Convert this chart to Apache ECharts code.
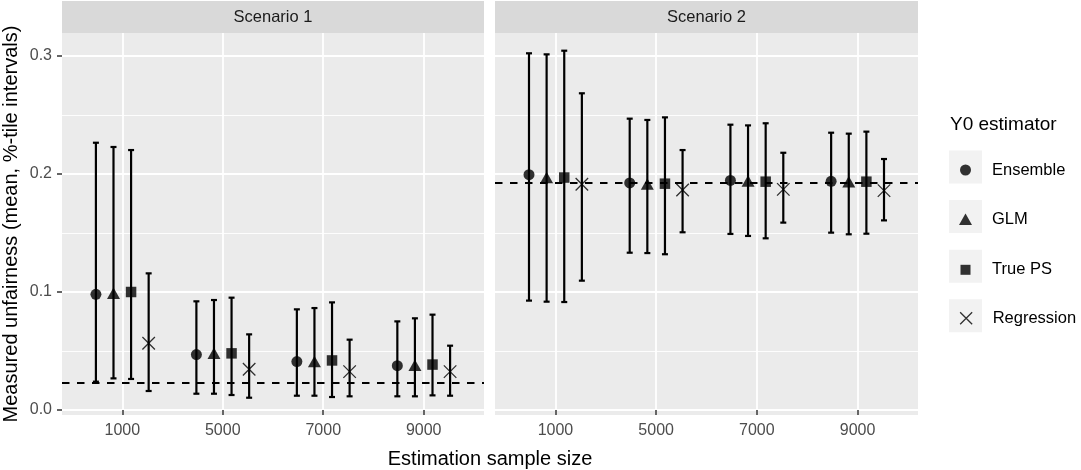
<!DOCTYPE html>
<html>
<head>
<meta charset="utf-8">
<script src="https://cdn.jsdelivr.net/npm/echarts@6/dist/echarts.min.js"></script>
<style>
  html, body { margin: 0; padding: 0; background: #fff; }
  #chart { width: 1081px; height: 470px; }
</style>
</head>
<body>
<div id="chart"></div>
<script>
// sample sizes on the x axis and the four Y0 estimators
var sizes = ['1000', '5000', '7000', '9000'];
var estimators = ['Ensemble', 'GLM', 'True PS', 'Regression'];

// Scenario 1: one row per estimator, one value per sample size
var s1Mean = [
  [0.098, 0.047, 0.041, 0.0376],
  [0.099, 0.048, 0.041, 0.038],
  [0.100, 0.048, 0.042, 0.0385],
  [0.0565, 0.0345, 0.0325, 0.0325]
];
var s1Low = [
  [0.024, 0.0138, 0.0121, 0.0116],
  [0.0268, 0.0138, 0.0121, 0.0116],
  [0.0263, 0.0127, 0.011, 0.0124],
  [0.0161, 0.0104, 0.0116, 0.0121]
];
var s1High = [
  [0.2265, 0.0921, 0.0853, 0.0751],
  [0.2229, 0.0932, 0.0864, 0.0777],
  [0.2203, 0.0952, 0.0912, 0.0808],
  [0.1158, 0.0641, 0.0596, 0.0545]
];

// Scenario 2
var s2Mean = [
  [0.1994, 0.1924, 0.1946, 0.1938],
  [0.197, 0.1915, 0.194, 0.1935],
  [0.197, 0.1918, 0.1935, 0.1935],
  [0.1913, 0.1864, 0.187, 0.1859]
];
var s2Low = [
  [0.0927, 0.1333, 0.1492, 0.1503],
  [0.0918, 0.133, 0.1475, 0.1489],
  [0.0915, 0.132, 0.1455, 0.1494],
  [0.1096, 0.1506, 0.1588, 0.1607]
];
var s2High = [
  [0.3023, 0.2469, 0.2418, 0.235],
  [0.3014, 0.2458, 0.2412, 0.2342],
  [0.3045, 0.248, 0.243, 0.2359],
  [0.2684, 0.2203, 0.218, 0.2127]
];

// true unfairness (dashed lines)
var refValues = [0.0235, 0.1924];

var yTicks = [0, 0.1, 0.2, 0.3];
var yMinor = [0.05, 0.15, 0.25];

var FONT = 'Liberation Sans, Arial, sans-serif';
var chart = echarts.init(document.getElementById('chart'));

// dodge positions like position_dodge(0.7)
var dodge = [-0.2625, -0.0875, 0.0875, 0.2625];
var symbols = ['circle', 'triangle', 'rect', 'path://M0,0L1,1M1,0L0,1'];
var symbolSizes = [11, [13, 11.5], 10.5, 12.5];

var scen = [
  { mean: s1Mean, low: s1Low, high: s1High },
  { mean: s2Mean, low: s2Low, high: s2High }
];

var grids = [
  { left: 62, top: 33, width: 422, height: 382, show: true, backgroundColor: '#ebebeb', borderWidth: 0 },
  { left: 495, top: 33, width: 423, height: 382, show: true, backgroundColor: '#ebebeb', borderWidth: 0 }
];

var xAxes = [], yAxes = [], series = [];

for (var g = 0; g < 2; g++) {
  xAxes.push({
    type: 'value', gridIndex: g, min: 0.4, max: 4.6,
    axisLine: { show: false },
    axisTick: { show: true, length: 5, customValues: [1, 2, 3, 4], lineStyle: { color: '#333', width: 1.5 } },
    axisLabel: {
      customValues: [1, 2, 3, 4], margin: 8, color: '#4d4d4d', fontSize: 16, fontFamily: FONT,
      formatter: function (v) { return sizes[Math.round(v) - 1]; }
    },
    splitLine: { show: true, lineStyle: { color: '#fff', width: 1.8 } }
  });
  // major y
  yAxes.push({
    type: 'value', gridIndex: g, min: -0.00424, max: 0.3195, position: 'left',
    axisLine: { show: false },
    axisTick: { show: g === 0, length: 5, customValues: yTicks, lineStyle: { color: '#333', width: 1.5 } },
    axisLabel: {
      show: g === 0, customValues: yTicks, margin: 10, color: '#4d4d4d', fontSize: 16, fontFamily: FONT,
      formatter: function (v) { return v.toFixed(1); }
    },
    splitLine: { show: true, lineStyle: { color: '#fff', width: 1.8 } }
  });
  // minor y grid lines
  yAxes.push({
    type: 'value', gridIndex: g, min: -0.00424, max: 0.3195, position: 'left',
    axisLine: { show: false },
    axisTick: { show: false, customValues: yMinor },
    axisLabel: { show: false, customValues: yMinor },
    splitLine: { show: true, lineStyle: { color: '#fff', width: 0.9 } }
  });

  var d = scen[g];
  var barData = [];
  for (var e = 0; e < estimators.length; e++) {
    var pts = [];
    for (var i = 0; i < sizes.length; i++) {
      pts.push([i + 1 + dodge[e], d.mean[e][i]]);
      barData.push([i + 1 + dodge[e], d.low[e][i], d.high[e][i]]);
    }
    series.push({
      name: estimators[e], type: 'scatter', xAxisIndex: g, yAxisIndex: g * 2,
      symbol: symbols[e], symbolSize: symbolSizes[e], data: pts, z: 5,
      itemStyle: e === 3
        ? { color: '#000', borderColor: '#000', borderWidth: 1.3 }
        : { color: '#000', borderWidth: 0 }
    });
  }
  // error bars
  series.push({
    type: 'custom', xAxisIndex: g, yAxisIndex: g * 2, data: barData, z: 3,
    renderItem: function (params, api) {
      var x = api.value(0);
      var lo = api.coord([x, api.value(1)]);
      var hi = api.coord([x, api.value(2)]);
      var w = 3;
      var st = { stroke: '#000', lineWidth: 2.2, fill: null };
      return {
        type: 'group',
        children: [
          { type: 'line', shape: { x1: lo[0], y1: lo[1], x2: hi[0], y2: hi[1] }, style: st },
          { type: 'line', shape: { x1: lo[0] - w, y1: lo[1], x2: lo[0] + w, y2: lo[1] }, style: st },
          { type: 'line', shape: { x1: hi[0] - w, y1: hi[1], x2: hi[0] + w, y2: hi[1] }, style: st }
        ]
      };
    },
    markLine: {
      symbol: 'none', silent: true, animation: false, z: 4, precision: 4,
      label: { show: false },
      lineStyle: { color: '#000', width: 1.8, type: [7.5, 7.5], opacity: 1 },
      emphasis: { disabled: true },
      data: [{ yAxis: refValues[g] }]
    }
  });
}

// legend: one component per key so each row sits where ggplot puts it
var legendCenters = [167, 216.5, 266.3, 315.7];
var legendIconW = [11, 13, 10, 12];
var legendIconH = [11, 11.5, 10, 12];
var legends = [];
var keyRects = [];
for (var k = 0; k < estimators.length; k++) {
  legends.push({
    show: true, orient: 'vertical',
    left: 965.5 - legendIconW[k] / 2, top: legendCenters[k] - legendIconH[k] / 2,
    padding: 0, itemWidth: legendIconW[k], itemHeight: legendIconH[k], selectedMode: false,
    textStyle: {
      fontSize: 16.5, color: '#000', fontFamily: FONT,
      padding: [0, 0, 0, 21.5 - legendIconW[k] / 2]
    },
    data: [k === 3
      ? { name: estimators[k], itemStyle: { color: '#000', borderColor: '#000', borderWidth: 1.3 } }
      : { name: estimators[k], itemStyle: { borderWidth: 0 } }]
  });
  keyRects.push({
    type: 'rect', z: 0, shape: { x: 949, y: legendCenters[k] - 16.5, width: 33, height: 33 },
    style: { fill: '#f2f2f2' }
  });
}

var graphics = [
  { type: 'rect', shape: { x: 62, y: 1, width: 422, height: 32 }, style: { fill: '#d9d9d9' } },
  { type: 'rect', shape: { x: 495, y: 1, width: 423, height: 32 }, style: { fill: '#d9d9d9' } },
  { type: 'text', x: 273, y: 17.5, style: { text: 'Scenario 1', fill: '#1a1a1a', fontSize: 16.5, fontFamily: FONT, align: 'center', verticalAlign: 'middle' } },
  { type: 'text', x: 706.5, y: 17.5, style: { text: 'Scenario 2', fill: '#1a1a1a', fontSize: 16.5, fontFamily: FONT, align: 'center', verticalAlign: 'middle' } },
  { type: 'text', x: 490, y: 459, style: { text: 'Estimation sample size', fill: '#000', fontSize: 20, fontFamily: FONT, align: 'center', verticalAlign: 'middle' } },
  { type: 'text', x: 11, y: 224, rotation: Math.PI / 2, style: { text: 'Measured unfairness (mean, %-tile intervals)', fill: '#000', fontSize: 20, fontFamily: FONT, align: 'center', verticalAlign: 'middle' } },
  { type: 'text', x: 950, y: 125, style: { text: 'Y0 estimator', fill: '#000', fontSize: 19, fontFamily: FONT, align: 'left', verticalAlign: 'middle' } }
].concat(keyRects);

chart.setOption({
  animation: false,
  backgroundColor: '#fff',
  grid: grids,
  xAxis: xAxes,
  yAxis: yAxes,
  legend: legends,
  graphic: graphics,
  series: series
});
</script>
</body>
</html>
